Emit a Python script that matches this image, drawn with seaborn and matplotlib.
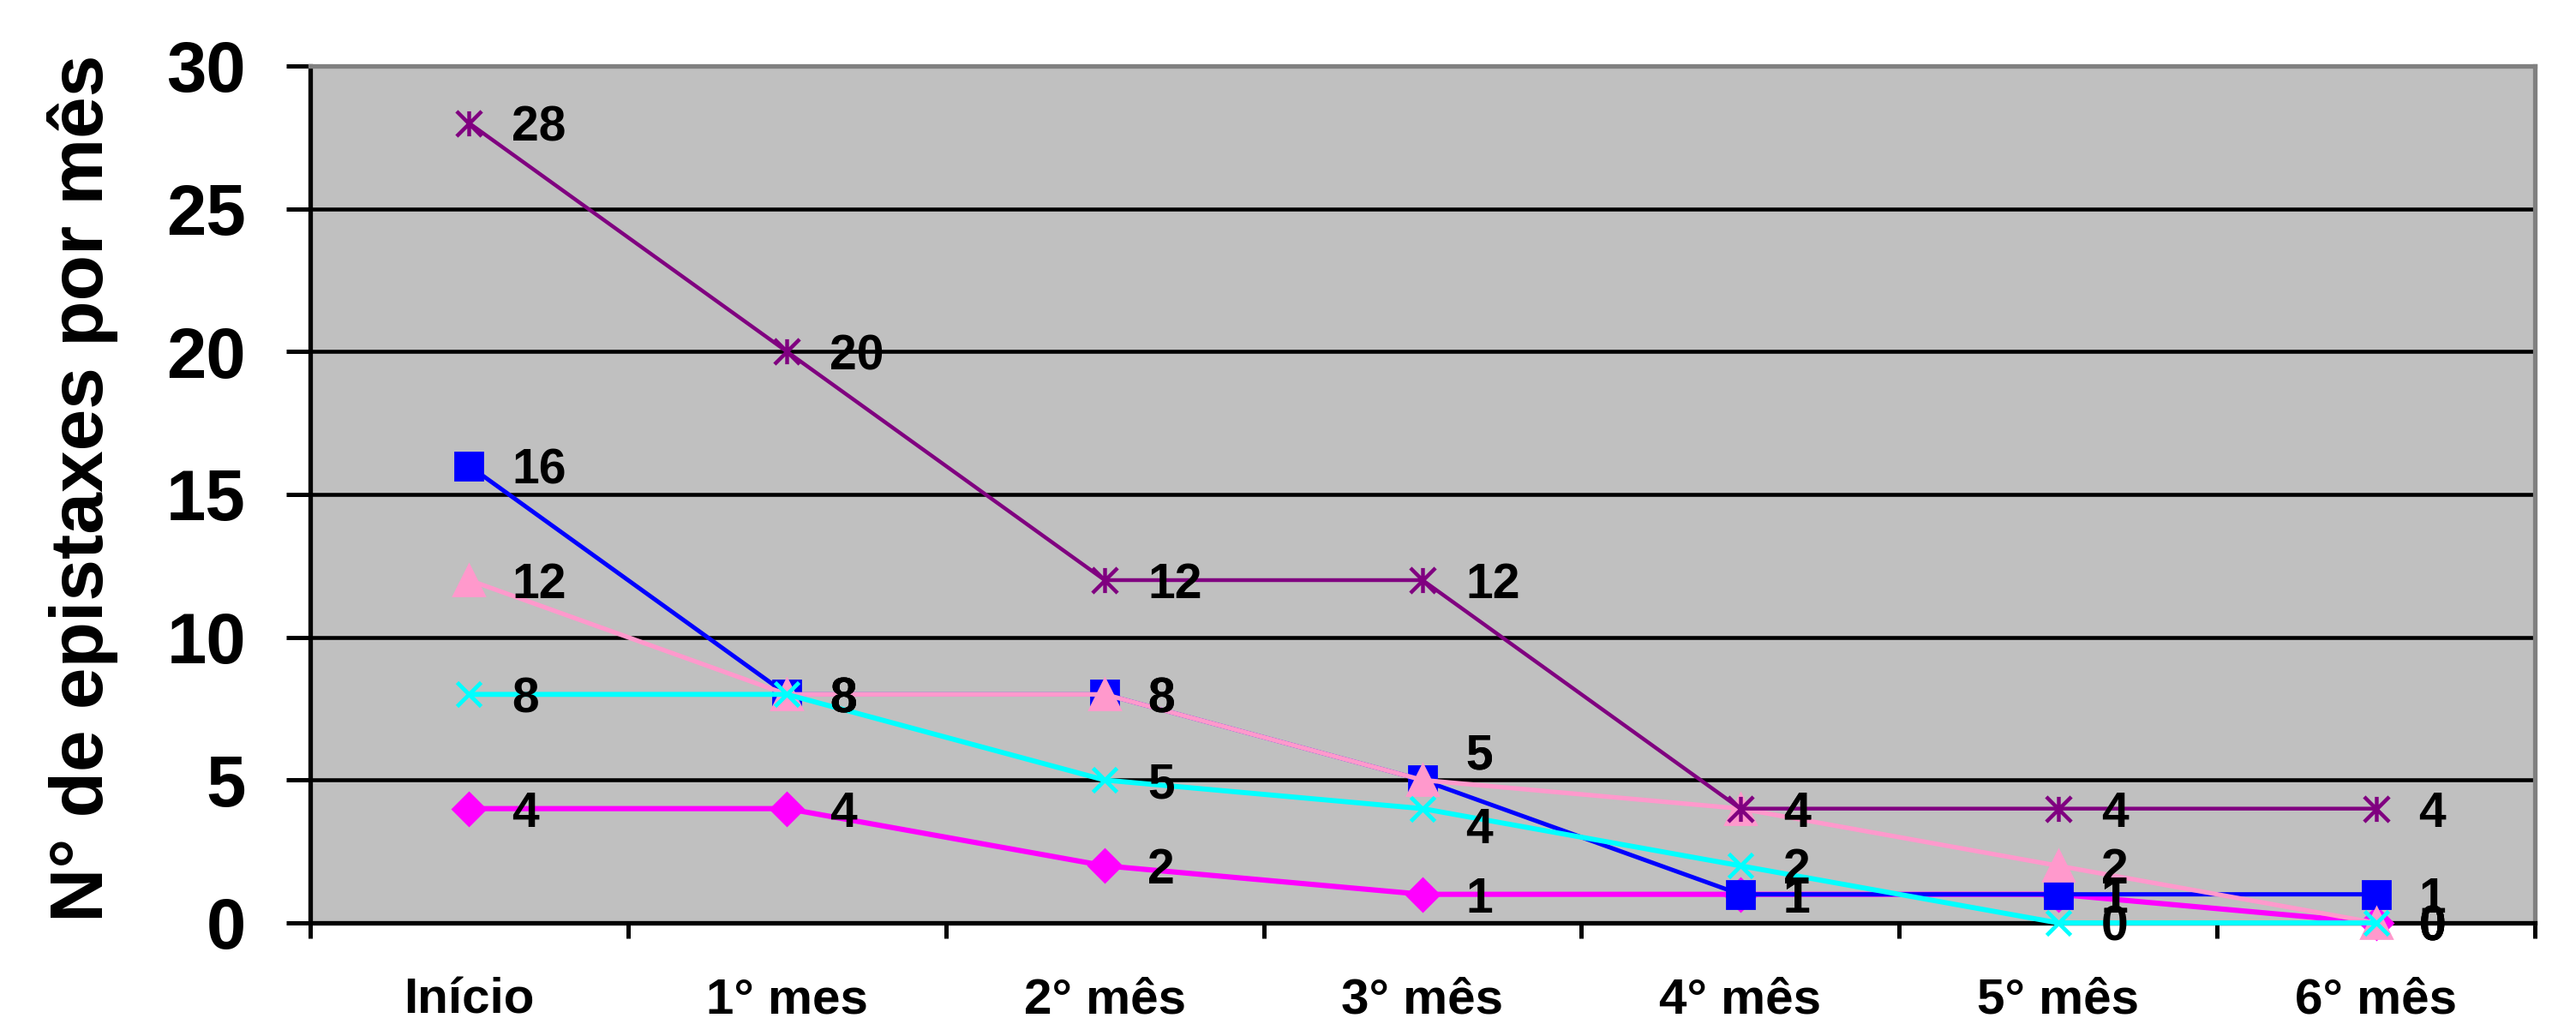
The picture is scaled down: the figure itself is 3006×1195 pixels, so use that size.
import numpy as np
import pandas as pd
import matplotlib
matplotlib.use("Agg")
import matplotlib.pyplot as plt
from matplotlib.path import Path
from matplotlib.ticker import FixedLocator
import seaborn as sns

# ---------------- data ----------------
categories = ["Início", "1° mes", "2° mês", "3° mês", "4° mês", "5° mês", "6° mês"]
serie_losango = [4, 4, 2, 1, 1, 1, 0]        # magenta diamonds
serie_quadrado = [16, 8, 8, 5, 1, 1, 1]      # blue squares
serie_triangulo = [12, 8, 8, 5, 4, 2, 0]     # pink triangles
serie_x = [8, 8, 5, 4, 2, 0, 0]              # cyan crosses
serie_estrela = [28, 20, 12, 12, 4, 4, 4]    # purple stars
y_ticks = [0, 5, 10, 15, 20, 25, 30]
y_label = "N° de epistaxes por mês"

# ---------------- style ----------------
sns.set_style("ticks")
plt.rcParams["font.family"] = ["Liberation Sans", "DejaVu Sans"]
plt.rcParams["font.weight"] = "bold"
for key in ["text.color", "axes.labelcolor", "xtick.color", "ytick.color"]:
    plt.rcParams[key] = "black"

DPI = 200
fig = plt.figure(figsize=(3006 / DPI, 1195 / DPI), dpi=DPI)
ax = fig.add_axes([362 / 3006, 1 - 1077 / 1195, (2958 - 362) / 3006, (1077 - 77) / 1195])
ax.set_facecolor("#C0C0C0")

star_path = Path(
    [(-1, -1), (1, 1), (-1, 1), (1, -1), (0, -1), (0, 1)],
    [Path.MOVETO, Path.LINETO, Path.MOVETO, Path.LINETO, Path.MOVETO, Path.LINETO],
)

xpos = np.arange(len(categories))
series = [
    ("losango", serie_losango, "#FF00FF", "D", 9.6, 2.2, 1.0),
    ("quadrado", serie_quadrado, "#0000FF", "s", 11.2, 1.8, 1.0),
    ("triangulo", serie_triangulo, "#FF99CC", "^", 13.2, 1.9, 1.0),
    ("x", serie_x, "#00FFFF", "x", 10.0, 2.1, 1.7),
    ("estrela", serie_estrela, "#800080", star_path, 10.5, 1.6, 1.6),
]

df = pd.DataFrame({"x": np.tile(xpos, len(series)),
                   "y": np.concatenate([s[1] for s in series]),
                   "serie": np.repeat([s[0] for s in series], len(xpos))})

label_offsets = {("quadrado", 3): (18, 12), ("triangulo", 3): (18, 12), ("x", 3): (18, -7)}

for k, (name, vals, color, marker, ms, lw, mew) in enumerate(series):
    sub = df[df["serie"] == name]
    face = "none" if name == "estrela" else color
    sns.lineplot(data=sub, x="x", y="y", ax=ax, color=color, linewidth=lw,
                 marker=marker, markersize=ms, markerfacecolor=face,
                 markeredgecolor=color, markeredgewidth=mew,
                 errorbar=None, sort=False, zorder=3 + k, clip_on=False)

for name, vals, color, marker, ms, lw, mew in series:
    for i, v in enumerate(vals):
        dx, dy = label_offsets.get((name, i), (18, 0))
        ax.annotate(f"{v}", xy=(i, v), xytext=(dx, dy), textcoords="offset points",
                    ha="left", va="center_baseline", fontsize=20.5, fontweight="bold",
                    color="black", zorder=20, annotation_clip=False)

# ---------------- axes ----------------
ax.set_xlim(-0.5, len(categories) - 0.5)
ax.set_ylim(0, 30)
ax.set_yticks(y_ticks)
ax.set_yticklabels([str(t) for t in y_ticks], fontsize=30, fontweight="bold", color="black")
ax.set_xticks(xpos)
ax.set_xticklabels(categories, fontsize=21, fontweight="bold", color="black")
ax.xaxis.set_minor_locator(FixedLocator(np.arange(-0.5, len(categories), 1.0)))
ax.tick_params(axis="x", which="major", length=0, pad=23)
ax.tick_params(axis="x", which="minor", length=6.5, width=1.8, color="black", direction="out")
ax.tick_params(axis="y", which="major", length=10, width=1.8, color="black", direction="out", pad=17)

ax.set_axisbelow(True)
ax.yaxis.grid(True, color="black", linewidth=1.65)
ax.xaxis.grid(False)

for side in ["left", "bottom"]:
    ax.spines[side].set_color("black")
    ax.spines[side].set_linewidth(1.9)
for side in ["top", "right"]:
    ax.spines[side].set_visible(True)
    ax.spines[side].set_color("#808080")
    ax.spines[side].set_linewidth(1.9)

ax.set_xlabel("")
ax.set_ylabel(y_label, fontsize=31.5, fontweight="bold", color="black")
ax.yaxis.set_label_coords(-0.0863, 0.507)

fig.savefig("out.png", dpi=DPI)
